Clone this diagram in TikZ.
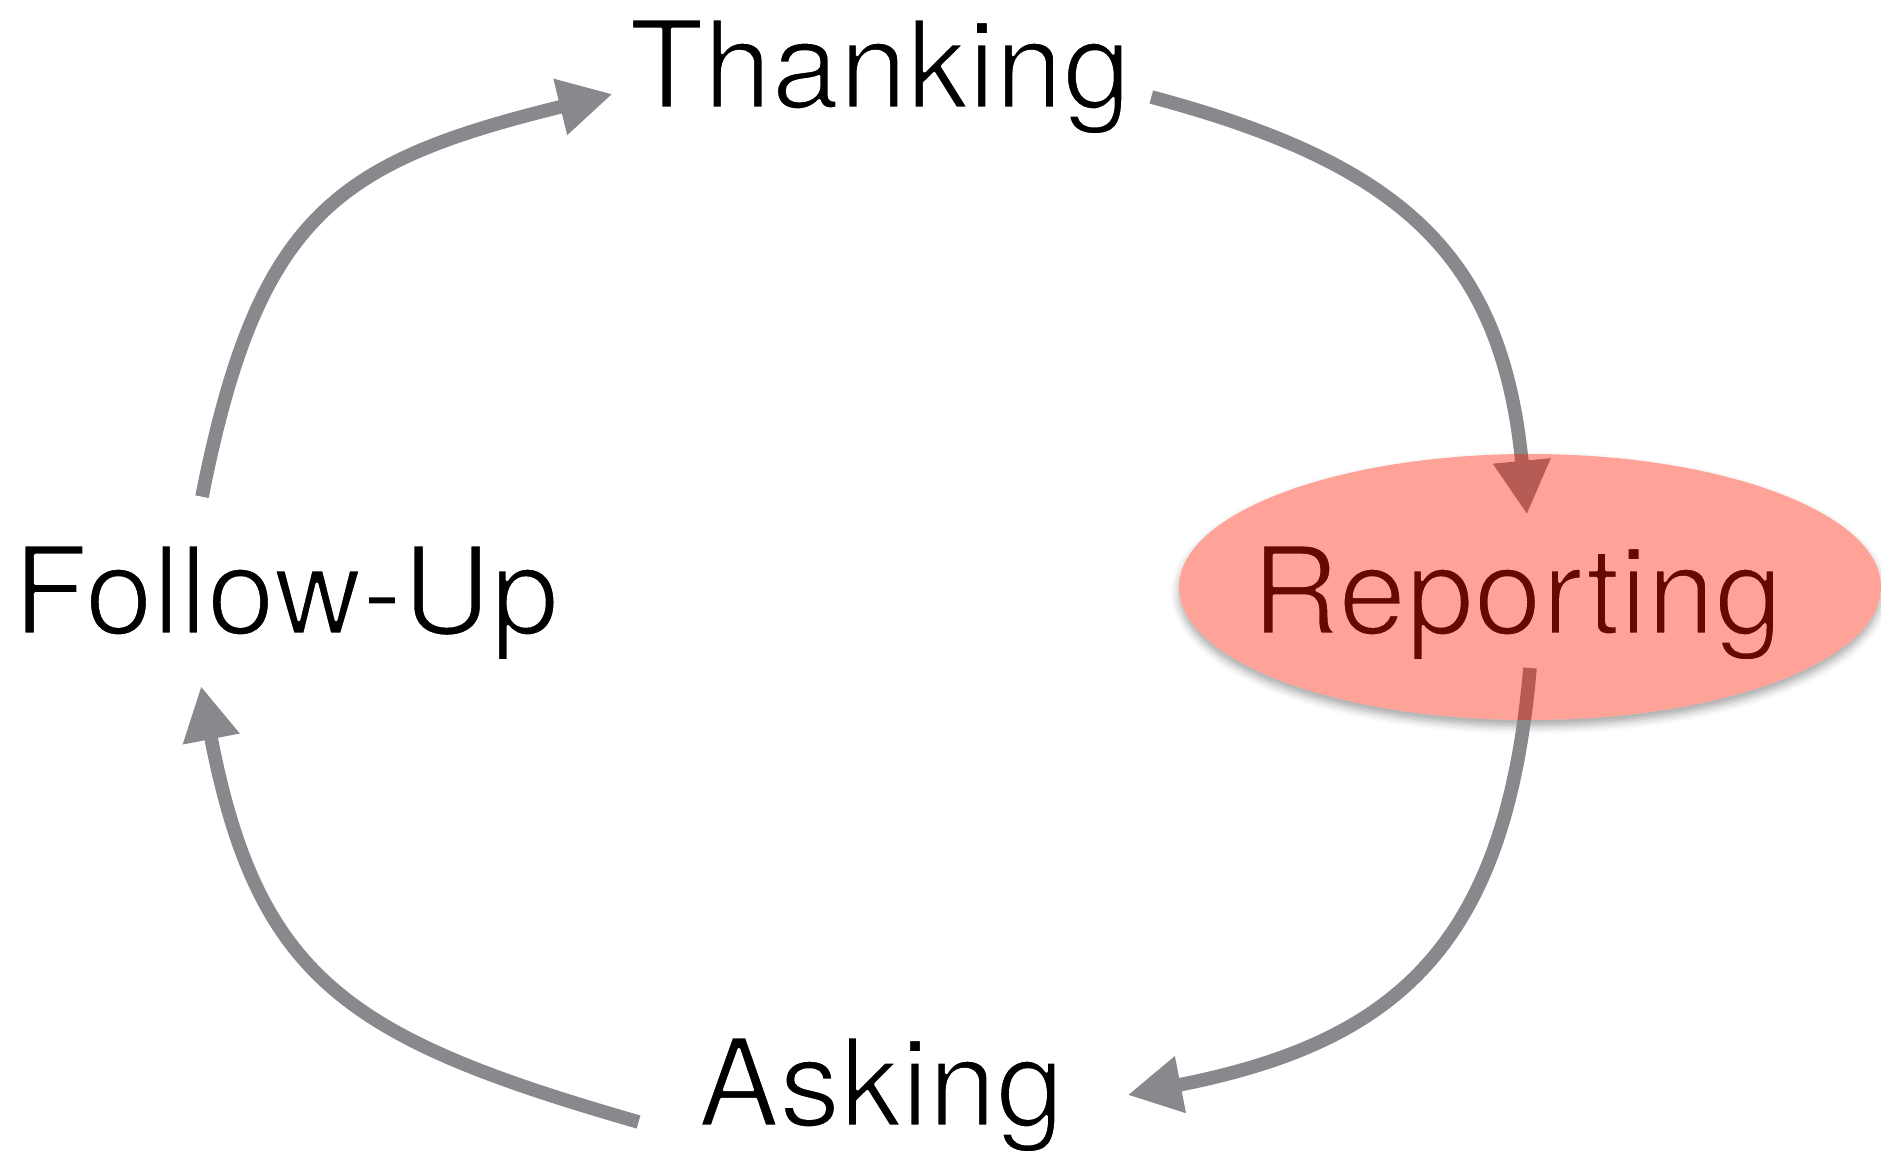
\documentclass[tikz,border=0pt]{standalone}
\usepackage{fontspec}
\setmainfont{TeX Gyre Heros}
\usetikzlibrary{arrows.meta,shadows.blur}
\definecolor{arrowgray}{HTML}{87898D}
\definecolor{spotred}{RGB}{255,25,0}
\newcommand{\lightstroke}{\special{pdf:literal direct 2 Tr 1 G 1 j 1.4 w}}

\begin{document}
\begin{tikzpicture}[x=0.5pt, y=-0.5pt, main/.style = {font=\fontsize{61}{70}\selectfont, inner sep=0pt, anchor=base, execute at begin node=\lightstroke}, arr/.style = {arrowgray, line width=6.8pt, -{Triangle[length=27pt, width=27pt]}}]
	\useasboundingbox (0,0) rectangle (1881,1153);
	\fill[white, blur shadow={shadow xshift=0pt, shadow yshift=-3pt, shadow blur radius=4pt, shadow opacity=35}] (1530,587) ellipse [x radius=175.5pt, y radius=66.5pt];
	\node[main] (1) at (880,108) {Thanking};
	\node[main] (2) at (1517,634) {Reporting};
	\node[main] (3) at (881,1126) {Asking};
	\node[main] (4) at (286,634) {Follow-Up};
	\draw[arr] ([shift={(20,-11)}]1.base east) .. controls +(251,67) and +(-25,-259) .. ([shift={(10,-30)}]2.north);
	\draw[arr] ([shift={(13,7)}]2.south) .. controls +(-24,276) and +(271,-53) .. ([shift={(63,-31)}]3.base east);
	\draw[arr] ([shift={(-59,-4)}]3.base west) .. controls +(-288,-83) and +(57,295) .. ([shift={(-85,25)}]4.south);
	\draw[arr] ([shift={(-84,-48)}]4.north) .. controls +(56,-282) and +(-277,68) .. ([shift={(-16,-14)}]1.base west);
	\fill[spotred, fill opacity=0.4] (1530,587) ellipse [x radius=175.5pt, y radius=66.5pt];
\end{tikzpicture}
\end{document}
